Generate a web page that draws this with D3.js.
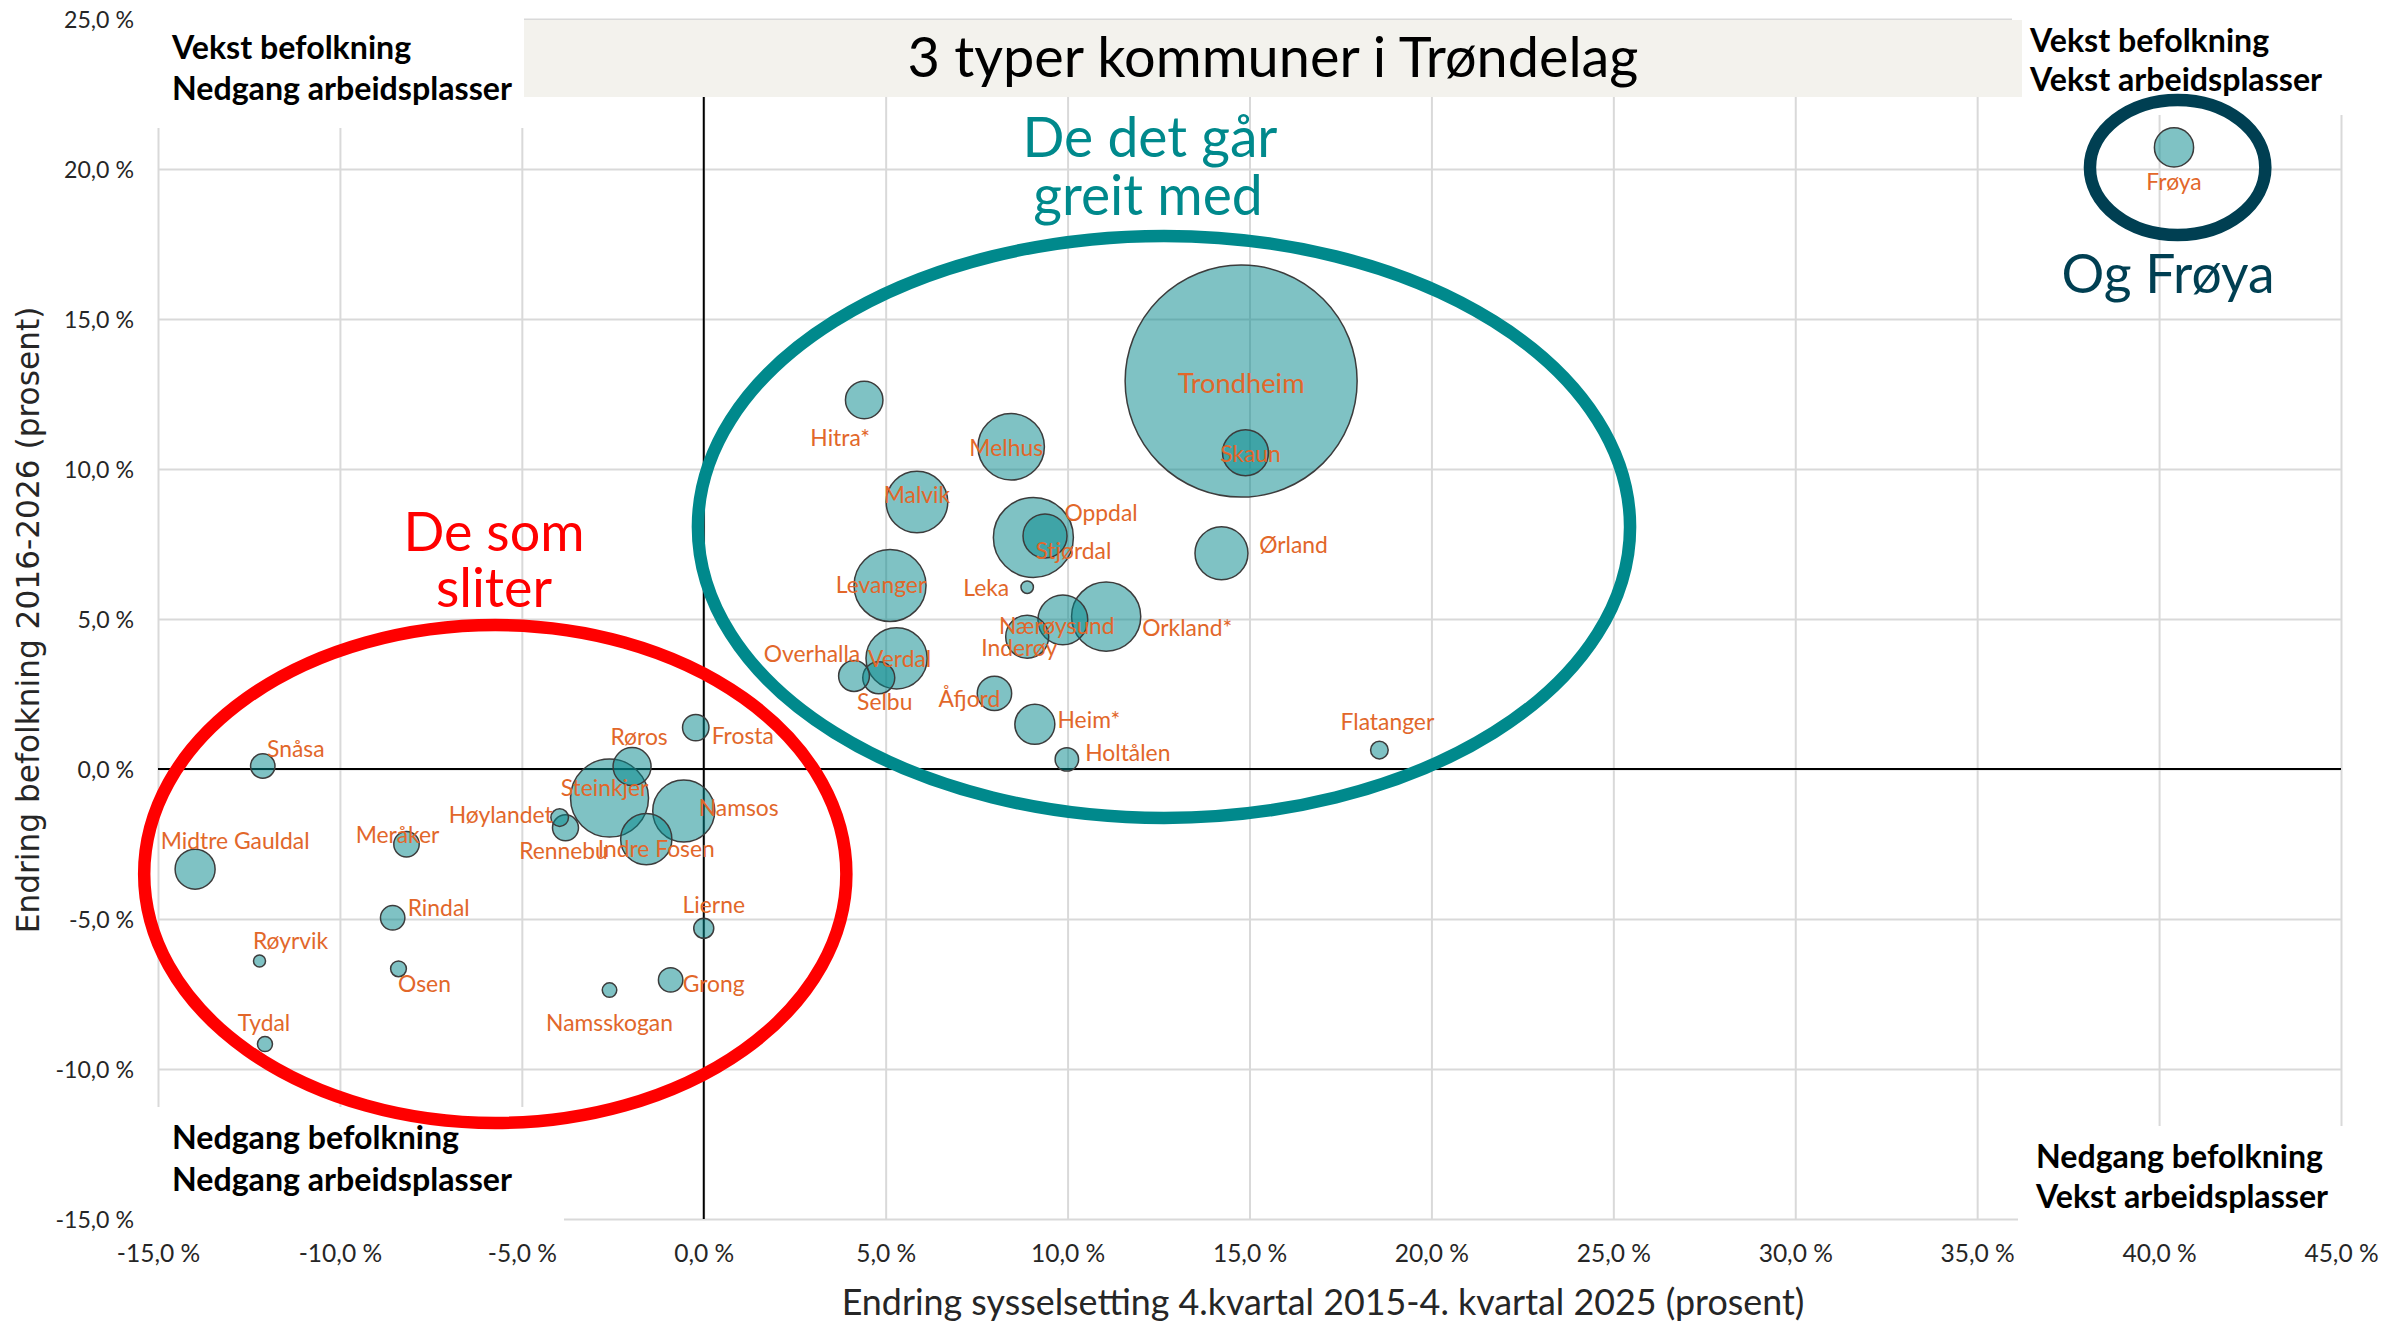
<!DOCTYPE html>
<html><head><meta charset="utf-8">
<script src="https://cdn.jsdelivr.net/npm/d3@7"></script>
<style>html,body{margin:0;padding:0;background:#fff;} svg{display:block}</style>
</head><body>
<svg id="chart" width="2408" height="1323"></svg>
<script>
// ---------------- DATA ----------------
const municipalities = ["Trondheim","Skaun","Hitra*","Melhus","Malvik","Stjørdal","Oppdal","Ørland","Levanger","Leka","Orkland*","Nærøysund","Inderøy","Verdal","Overhalla","Selbu","Åfjord","Heim*","Holtålen","Flatanger","Frosta","Røros","Snåsa","Steinkjer","Namsos","Indre Fosen","Høylandet","Rennebu","Meråker","Midtre Gauldal","Rindal","Lierne","Røyrvik","Osen","Grong","Namsskogan","Tydal","Frøya"];
// Endring sysselsetting 4.kv 2015 - 4.kv 2025 (%)
const employmentChange = [14.77,14.89,4.41,8.45,5.86,9.06,9.38,14.23,5.12,8.89,11.06,9.87,8.89,5.30,4.13,4.81,7.99,9.10,9.98,18.57,-0.22,-1.97,-12.12,-2.59,-0.55,-1.58,-3.96,-3.80,-8.17,-13.98,-8.55,0.00,-12.21,-8.39,-0.91,-2.59,-12.06,40.41];
// Endring befolkning 2016-2026 (%)
const populationChange = [12.93,10.54,12.30,10.74,8.90,7.72,7.77,7.19,6.12,6.06,5.08,4.97,4.41,3.69,3.10,3.04,2.52,1.49,0.32,0.63,1.38,0.08,0.10,-0.97,-1.40,-2.34,-1.62,-1.96,-2.51,-3.34,-4.96,-5.31,-6.40,-6.66,-7.03,-7.37,-9.17,20.72];
// Bubble size (innbyggere)
const population = [212000,8330,5540,17370,14950,25210,7630,11060,20420,610,18860,9770,7280,14750,3740,4030,4660,6300,2160,1220,2750,5690,2350,23960,15140,10330,1220,2660,2540,6300,2350,1580,570,980,2350,830,890,6050];

const xTicks = [-15,-10,-5,0,5,10,15,20,25,30,35,40,45];
const xTickLabels = ["-15,0 %","-10,0 %","-5,0 %","0,0 %","5,0 %","10,0 %","15,0 %","20,0 %","25,0 %","30,0 %","35,0 %","40,0 %","45,0 %"];
const yTicks = [-15,-10,-5,0,5,10,15,20,25];
const yTickLabels = ["-15,0 %","-10,0 %","-5,0 %","0,0 %","5,0 %","10,0 %","15,0 %","20,0 %","25,0 %"];

const chartTitle = "3 typer kommuner i Trøndelag";
const xTitle = "Endring sysselsetting 4.kvartal 2015-4. kvartal 2025 (prosent)";
const yTitle = "Endring befolkning 2016-2026 (prosent)";

// ---------------- LAYOUT / STYLE ----------------
const W = 2408, H = 1323;
const svg = d3.select("#chart");
const x = d3.scaleLinear().domain([-15,45]).range([158,2341]);
const y = d3.scaleLinear().domain([-15,25]).range([1219,19]);
const r = d3.scaleSqrt().domain([0, d3.max(population)]).range([0,116]);

const FONT = "Lato, 'Open Sans', sans-serif";
const ORANGE = "#E2672A";
const TEAL = "#00898C";
const DARK = "#003F52";
const TITLE_BOX = {x:524, y:20, w:1498, h:77};

// label offsets (px) relative to bubble centre
const labelOffset = {
 "Trondheim":[0,2],"Skaun":[5,1],"Hitra*":[-24,38],"Melhus":[-5,1],"Malvik":[0,-7],
 "Stjørdal":[40,13],"Oppdal":[56,-23],"Ørland":[72,-9],"Levanger":[-9,-1],"Leka":[-41,1],
 "Orkland*":[81,11],"Nærøysund":[-6,6],"Inderøy":[-8,11],"Verdal":[3,0],"Overhalla":[-42,-22],
 "Selbu":[6,24],"Åfjord":[-25,5],"Heim*":[54,-5],"Holtålen":[61,-7],"Flatanger":[8,-28],
 "Frosta":[47,8],"Røros":[7,-30],"Snåsa":[33,-17],"Steinkjer":[-5,-10],"Namsos":[55,-3],
 "Indre Fosen":[10,10],"Høylandet":[-59,-3],"Rennebu":[-2,23],"Meråker":[-9,-10],
 "Midtre Gauldal":[40,-28],"Rindal":[46,-10],"Lierne":[10,-24],"Røyrvik":[31,-20],
 "Osen":[26,15],"Grong":[43,4],"Namsskogan":[0,33],"Tydal":[-1,-21],"Frøya":[0,34]
};

function fitSize(text, family, weight, target){
  const t = svg.append("text").attr("font-family",family).attr("font-weight",weight)
     .attr("font-size",100).text(text);
  const w = t.node().getComputedTextLength();
  t.remove();
  return 100*target/w;
}

svg.append("rect").attr("width",W).attr("height",H).attr("fill","#fff");

// gridlines via axes
const gx = svg.append("g").attr("transform",`translate(0,${y(-15)})`)
  .call(d3.axisBottom(x).tickValues(xTicks).tickSize(-(y(-15)-y(25))).tickFormat(""));
const gy = svg.append("g").attr("transform",`translate(${x(-15)},0)`)
  .call(d3.axisLeft(y).tickValues(yTicks).tickSize(-(x(45)-x(-15))).tickFormat(""));
[gx,gy].forEach(g=>{ g.select(".domain").remove(); g.selectAll(".tick line").attr("stroke","#d9d9d9").attr("stroke-width",2); });

// white label boxes hiding grid
const boxes = [[0,0,524,128],[2012,0,W-2012,115],[0,1107,564,H-1107],[2018,1126,W-2018,H-1126]];
svg.selectAll("rect.qbox").data(boxes).join("rect").attr("class","qbox")
  .attr("x",d=>d[0]).attr("y",d=>d[1]).attr("width",d=>d[2]).attr("height",d=>d[3]).attr("fill","#fff");

// zero axes
svg.append("line").attr("x1",x(-15)).attr("x2",x(45)).attr("y1",y(0)).attr("y2",y(0)).attr("stroke","#000").attr("stroke-width",2);
svg.append("line").attr("x1",x(0)).attr("x2",x(0)).attr("y1",TITLE_BOX.y+TITLE_BOX.h).attr("y2",y(-15)).attr("stroke","#000").attr("stroke-width",2);

// title box
svg.append("rect").attr("x",TITLE_BOX.x).attr("y",TITLE_BOX.y).attr("width",TITLE_BOX.w).attr("height",TITLE_BOX.h).attr("fill","#f3f2ed");
const titleSize = fitSize(chartTitle, FONT, 400, 731);
svg.append("text").attr("x",TITLE_BOX.x+TITLE_BOX.w/2).attr("y",77).attr("text-anchor","middle")
  .attr("font-family",FONT).attr("font-size",titleSize).attr("fill","#000").text(chartTitle);

// tick labels via axes
const yTickSize = fitSize("25,0 %", FONT, 400, 70);
const ay = svg.append("g").attr("transform",`translate(134,0)`)
  .call(d3.axisLeft(y).tickValues(yTicks).tickSize(0).tickPadding(0).tickFormat((d,i)=>yTickLabels[i]));
ay.select(".domain").remove();
ay.selectAll("text").attr("font-family",FONT).attr("font-size",yTickSize).attr("fill","#262626")
  .attr("x",0).attr("dy",(0.36*yTickSize)+"px");

const xTickSize = fitSize("0,0 %", FONT, 400, 60);
const ax = svg.append("g").attr("transform",`translate(0,1262)`)
  .call(d3.axisBottom(x).tickValues(xTicks).tickSize(0).tickPadding(0).tickFormat((d,i)=>xTickLabels[i]));
ax.select(".domain").remove();
ax.selectAll("text").attr("font-family",FONT).attr("font-size",xTickSize).attr("fill","#262626")
  .attr("y",0).attr("dy",0);

// axis titles
const xTitleSize = fitSize(xTitle, FONT, 400, 963);
svg.append("text").attr("x",1323).attr("y",1315).attr("text-anchor","middle")
  .attr("font-family",FONT).attr("font-size",xTitleSize).attr("fill","#262626").text(xTitle);
const YFONT = "'DejaVu Sans', Verdana, sans-serif";
const yTitleSize = fitSize(yTitle, YFONT, 400, 627);
svg.append("text").attr("transform","translate(28,620) rotate(-90)").attr("text-anchor","middle")
  .attr("dominant-baseline","central")
  .attr("font-family",YFONT).attr("font-size",yTitleSize).attr("fill","#262626").text(yTitle);

// bubbles
const data = municipalities.map((m,i)=>({name:m, ex:employmentChange[i], pc:populationChange[i], pop:population[i]}))
  .sort((a,b)=>b.pop-a.pop);
svg.append("g").selectAll("circle").data(data).join("circle")
  .attr("cx",d=>x(d.ex)).attr("cy",d=>y(d.pc)).attr("r",d=>r(d.pop))
  .attr("fill","#00858a").attr("fill-opacity",0.5)
  .attr("stroke","#3c3c3c").attr("stroke-width",1.5);

const labSize = fitSize("Midtre Gauldal", FONT, 400, 149);
const bigLab = fitSize("Trondheim", FONT, 400, 127);
svg.append("g").selectAll("text").data(data).join("text")
  .attr("x",d=>x(d.ex)+labelOffset[d.name][0])
  .attr("y",d=>{const fs = d.name==="Trondheim"?bigLab:labSize; return y(d.pc)+labelOffset[d.name][1]+0.36*fs;})
  .attr("text-anchor","middle").attr("font-family",FONT)
  .attr("font-size",d=>d.name==="Trondheim"?bigLab:labSize)
  .attr("fill",ORANGE).text(d=>d.name);

// annotation ellipses (data units)
const rings = [
  {cx:-5.73, cy:-3.5, rx:9.65, ry:8.3, color:"#FF0000"},
  {cx:12.65, cy:8.07, rx:12.81, ry:9.7, color:TEAL},
  {cx:40.51, cy:20.05, rx:2.41, ry:2.25, color:DARK}
];
svg.append("g").selectAll("ellipse").data(rings).join("ellipse")
  .attr("cx",d=>x(d.cx)).attr("cy",d=>y(d.cy))
  .attr("rx",d=>x(d.cx+d.rx)-x(d.cx)).attr("ry",d=>y(d.cy)-y(d.cy+d.ry))
  .attr("fill","none").attr("stroke",d=>d.color).attr("stroke-width",12.5);

// annotation texts
const s1 = fitSize("De som", FONT, 400, 181);
svg.append("text").attr("x",494).attr("y",551).attr("text-anchor","middle").attr("font-family",FONT)
  .attr("font-size",s1).attr("fill","#FF0000").text("De som");
svg.append("text").attr("x",494).attr("y",607).attr("text-anchor","middle").attr("font-family",FONT)
  .attr("font-size",s1).attr("fill","#FF0000").text("sliter");
const s2 = fitSize("De det går", FONT, 400, 255);
svg.append("text").attr("x",1150).attr("y",157).attr("text-anchor","middle").attr("font-family",FONT)
  .attr("font-size",s2).attr("fill",TEAL).text("De det går");
svg.append("text").attr("x",1148).attr("y",215).attr("text-anchor","middle").attr("font-family",FONT)
  .attr("font-size",s2).attr("fill",TEAL).text("greit med");
const s3 = fitSize("Og Frøya", FONT, 400, 213);
svg.append("text").attr("x",2168).attr("y",293).attr("text-anchor","middle").attr("font-family",FONT)
  .attr("font-size",s3).attr("fill",DARK).text("Og Frøya");

// quadrant labels
const qs = fitSize("Nedgang arbeidsplasser", FONT, 700, 340);
const quad = [
  {x:172,y:59,t:"Vekst befolkning"},{x:172,y:100,t:"Nedgang arbeidsplasser"},
  {x:2030,y:52,t:"Vekst befolkning"},{x:2030,y:91,t:"Vekst arbeidsplasser"},
  {x:172,y:1149,t:"Nedgang befolkning"},{x:172,y:1191,t:"Nedgang arbeidsplasser"},
  {x:2036,y:1168,t:"Nedgang befolkning"},{x:2036,y:1208,t:"Vekst arbeidsplasser"}
];
svg.append("g").selectAll("text").data(quad).join("text")
  .attr("x",d=>d.x).attr("y",d=>d.y).attr("font-family",FONT).attr("font-weight",700)
  .attr("font-size",qs).attr("fill","#000").text(d=>d.t);
</script>
</body></html>
